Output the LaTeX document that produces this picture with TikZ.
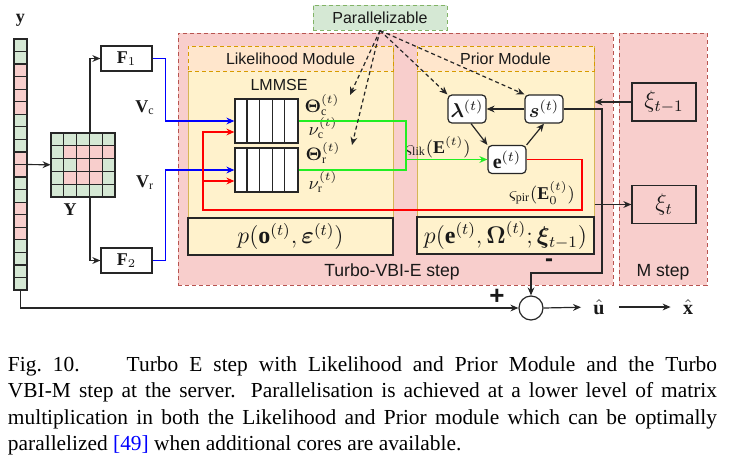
\documentclass[tikz,border=0pt]{standalone}
\usepackage{amsmath,bm}
\usepackage{fontspec}
\setmainfont{Liberation Serif}
\setsansfont{Liberation Sans}
\usetikzlibrary{arrows.meta}
\definecolor{TurboFill}{HTML}{F8CECC}
\definecolor{TurboLine}{HTML}{B85450}
\definecolor{ModFill}{HTML}{FFF2CC}
\definecolor{ModLine}{HTML}{D6B656}
\definecolor{HeadFill}{HTML}{FFE6CC}
\definecolor{HeadLine}{HTML}{D79B00}
\definecolor{ParFill}{HTML}{D5E8D4}
\definecolor{ParLine}{HTML}{82B366}
\definecolor{CellG}{HTML}{D5E8D4}
\definecolor{CellR}{HTML}{F8CECC}
\definecolor{LikGreen}{HTML}{22EE22}
\definecolor{CiteBlue}{HTML}{0000FF}

\begin{document}
\begin{tikzpicture}[x=0.5pt,y=-0.5pt,
      every node/.style={font=\sffamily\fontsize{8}{9.6}\selectfont,inner sep=0pt,text=black!90},
      steplbl/.style={font=\sffamily\fontsize{8.8}{10}\selectfont},
      mathlbl/.style={font=\fontsize{9}{10}\selectfont},
      cell/.style={draw=black!85,line width=0.6pt,minimum width=6.5pt,minimum height=6.28pt},
      gcell/.style={draw=black!85,line width=0.6pt,minimum size=6.4pt},
      stepbox/.style={draw=TurboLine,dash pattern=on 2pt off 1.5pt,fill=TurboFill,line width=0.5pt,minimum height=126pt},
      modbody/.style={draw=ModLine,fill=ModFill,line width=0.5pt,minimum height=85.5pt},
      modhead/.style={draw=HeadLine,fill=HeadFill,dash pattern=on 2pt off 1.5pt,line width=0.5pt,minimum height=12.5pt},
      dist/.style={draw=black!85,fill=ModFill,line width=0.8pt,minimum height=18.5pt,font=\fontsize{12}{14}\selectfont},
      fbox/.style={draw=black!85,fill=white,line width=0.6pt,minimum width=25.5pt,minimum height=12.5pt,font=\fontsize{9}{10}\selectfont},
      xibox/.style={draw=black!85,line width=0.6pt,minimum width=32pt,minimum height=19pt,font=\fontsize{12}{14}\selectfont},
      var/.style={draw=black!85,fill=white,rounded corners=2pt,line width=0.6pt,minimum width=19pt,minimum height=14pt,font=\fontsize{10}{12}\selectfont},
      lmblock/.style={draw=black!85,fill=white,line width=0.6pt,minimum width=31.5pt,minimum height=22pt},
      arrow/.style={-{Stealth[length=4pt,width=3.4pt]},line width=0.6pt,draw=black!85},
      parl/.style={arrow,dash pattern=on 2pt off 1.5pt},
      obs/.style={arrow,draw=blue},
      fbarrow/.style={arrow,draw=red},
      lik/.style={line width=0.6pt,draw=LikGreen},
      likarrow/.style={arrow,draw=LikGreen},
      caption/.style={font=\rmfamily\fontsize{10.7}{13.25}\selectfont,text width=354.5pt,align=justify,text=black}]
      \useasboundingbox (0,0) rectangle (734,467);
      \node[stepbox,minimum width=217.5pt] (turbo) at (395.5,159) {};
      \node[stepbox,minimum width=44pt] (mstep) at (663,159) {};
      \node[steplbl] (turbolbl) at (392,272) {Turbo-VBI-E step};
      \node[steplbl] (mlbl) at (663,272) {M step};
      \node[modbody,minimum width=102.5pt] (likbody) at (290.5,131.5) {};
      \node[modhead,minimum width=102.5pt] (likhead) at (290.5,58.5) {Likelihood Module};
      \node[modbody,minimum width=88.5pt] (pribody) at (505.5,131.5) {};
      \node[modhead,minimum width=88.5pt] (prihead) at (505.5,58.5) {Prior Module};
      \node[dist,minimum width=102.5pt] (plik) at (290.5,236.5) {$p(\mathbf{o}^{(t)},\bm{\varepsilon}^{(t)})$};
      \node[dist,minimum width=88.5pt] (ppri) at (505.5,235.5) {$p(\mathbf{e}^{(t)},\bm{\Omega}^{(t)};\bm{\xi}_{t-1})$};
      \node[draw=ParLine,fill=ParFill,dash pattern=on 2pt off 1.5pt,line width=0.5pt,minimum width=67pt,minimum height=12.5pt] (par) at (380,17.5) {Parallelizable};
      \node[mathlbl] (ylbl) at (20.5,20) {$\mathbf{y}$};
      \node[minimum width=6.5pt,minimum height=125.5pt] (vec) at (20.5,164.5) {};
      \foreach \c [count=\i] in {G,G,R,R,R,R,G,G,G,R,R,G,G,R,R,R,G,G,G,G}
        \node[cell,fill=Cell\c] at (20.5,{39+(\i-0.5)*12.55}) {};
      \node[minimum size=32pt] (mat) at (83,165) {};
      \foreach \row [count=\j] in {{G,G,G,G,G},{G,R,R,R,R},{G,G,R,R,G},{G,R,R,R,G},{G,G,G,G,G}}
        \foreach \c [count=\i] in \row
          \node[gcell,fill=Cell\c] at ({51+(\i-0.5)*12.8},{133+(\j-0.5)*12.8}) {};
      \node[mathlbl] (Ylbl) at (70,210) {$\mathbf{Y}$};
      \node[fbox] (F1) at (126.5,58.5) {$\mathbf{F}_1$};
      \node[fbox] (F2) at (126.5,260.5) {$\mathbf{F}_2$};
      \node[mathlbl] (Vc) at (145,108) {$\mathbf{V}_{\mathrm{c}}$};
      \node[mathlbl] (Vr) at (145,183) {$\mathbf{V}_{\mathrm{r}}$};
      \node (lmmse) at (279,85) {LMMSE};
      \node[lmblock] (lmtop) at (266.5,121) {};
      \node[lmblock] (lmbot) at (266.5,170) {};
      \foreach \blk in {lmtop,lmbot}
        \foreach \k in {1,...,4}
          \draw[line width=0.6pt,black!85] ([xshift=\k*6.3pt]\blk.north west) -- ([xshift=\k*6.3pt]\blk.south west);
      \node[mathlbl] (thc) at (322,105) {$\bm{\Theta}_{\mathrm{c}}^{(t)}$};
      \node[mathlbl] (nuc) at (323,128) {$\nu_{\mathrm{c}}^{(t)}$};
      \node[mathlbl] (thr) at (323,153) {$\bm{\Theta}_{\mathrm{r}}^{(t)}$};
      \node[mathlbl] (nur) at (323,182) {$\nu_{\mathrm{r}}^{(t)}$};
      \node[var] (lam) at (467,109) {$\bm{\lambda}^{(t)}$};
      \node[var] (s) at (544,109) {$\bm{s}^{(t)}$};
      \node[var] (e) at (507,159.5) {$\mathbf{e}^{(t)}$};
      \node[mathlbl] (slik) at (438,147) {$\varsigma_{\mathrm{lik}}(\mathbf{E}^{(t)})$};
      \node[mathlbl] (spir) at (542,193) {$\varsigma_{\mathrm{pir}}(\mathbf{E}_0^{(t)})$};
      \node[xibox] (xiprev) at (664,102) {$\xi_{t-1}$};
      \node[xibox] (xit) at (664,204.5) {$\xi_t$};
      \node[draw=black!85,fill=white,circle,line width=0.6pt,minimum size=12pt] (sum) at (531,308) {};
      \node[font=\fontsize{10}{12}\selectfont] (uhat) at (599,307) {$\hat{\mathbf{u}}$};
      \node[font=\fontsize{10}{12}\selectfont] (xhat) at (688,307) {$\hat{\mathbf{x}}$};
      \node[font=\sffamily\bfseries\fontsize{13}{14}\selectfont] (plus) at (497,297) {+};
      \node[font=\sffamily\bfseries\fontsize{12}{14}\selectfont] (minus) at (549,263) {-};
      \draw[arrow] (vec) -- (mat);
      \draw[arrow] ([xshift=3.5pt]mat.north) |- (F1.west);
      \draw[arrow] ([xshift=3.5pt]mat.south) |- (F2.west);
      \draw[obs] (F1.east) -- ++(13,0) |- (lmtop.west);
      \draw[obs] (F2.east) -- ++(13,0) |- (lmbot.west);
      \draw[fbarrow] (e.east) -| (582,210) -- (203,210) |- ([yshift=-5.5pt]lmtop.west);
      \draw[fbarrow] (203,181) -- ([yshift=-5.5pt]lmbot.west);
      \draw[lik] (lmtop.east) -| (406,170) -- (lmbot.east);
      \draw[likarrow] (406,159.5) -- (e.west);
      \draw[arrow] (s) -- (lam);
      \draw[arrow] ([xshift=2pt]lam.south) -- (e.north west);
      \draw[arrow] (e.north east) -- (s.south);
      \draw[arrow] (xiprev.west) -- (xiprev.west -| pribody.east);
      \draw[arrow] (pribody.east |- xit.west) -- (xit.west);
      \draw[arrow] (s.east) -| (602,273) -| (sum.north);
      \draw[arrow] (vec.south) |- (sum.west);
      \draw[arrow,shorten >=6pt] (sum.east) -- (uhat.west);
      \draw[arrow,shorten <=7pt,shorten >=6pt] (uhat.east) -- (xhat.west);
      \coordinate (pl1) at (350,95);
      \coordinate (pl2) at (352,145);
      \draw[parl] (par.south) -- (pl1);
      \draw[parl] (par.south) -- (pl2);
      \draw[parl] (par.south) -- (lam.north west);
      \draw[parl] (par.south) -- (s.north west);
      \node[caption] (cap) at (362.5,406) {Fig.~10.\hspace{2.2em}Turbo E step with Likelihood and Prior Module and the Turbo\linebreak VBI-M step at the server. Parallelisation is achieved at a lower level of matrix\linebreak multiplication in both the Likelihood and Prior module which can be optimally\linebreak parallelized \textcolor{CiteBlue}{[49]} when additional cores are available.};
    \end{tikzpicture}
\end{document}
